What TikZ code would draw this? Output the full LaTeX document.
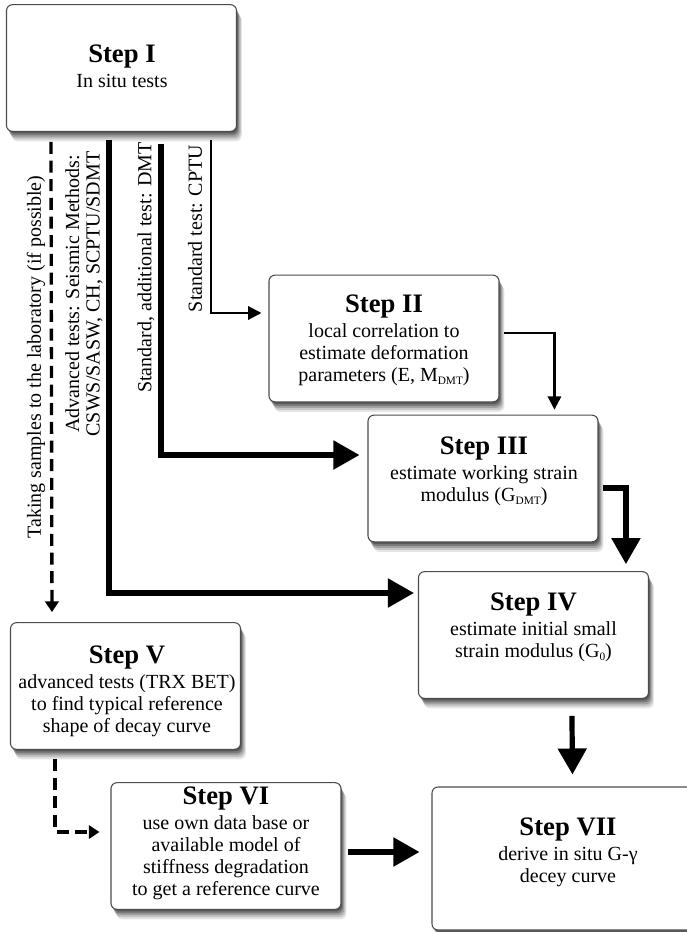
\documentclass[tikz,border=0pt]{standalone}
\usepackage{fontspec}
\setmainfont{Liberation Serif}
\usetikzlibrary{calc,arrows.meta,shadows}
\tikzset{
 box/.style={draw=black!70, line width=0.8pt, fill=white, rounded corners=4.5pt,
  minimum width=172.5pt, minimum height=95pt, inner sep=0pt,
  general shadow={shadow xshift=4pt, shadow yshift=-7.5pt, fill=black, opacity=.10},
  general shadow={shadow xshift=3.2pt, shadow yshift=-6pt, fill=black, opacity=.14},
  general shadow={shadow xshift=2.4pt, shadow yshift=-4.5pt, fill=black, opacity=.18},
  general shadow={shadow xshift=1.5pt, shadow yshift=-3pt, fill=black, opacity=.24},
  general shadow={shadow xshift=0.8pt, shadow yshift=-1.5pt, fill=black, opacity=.28}},
 txt/.style={align=center, font=\fontsize{15}{16.5}\selectfont, inner sep=0pt},
 side/.style={rotate=90, align=center, font=\fontsize{15}{15.5}\selectfont, inner sep=0pt},
 thick arrow/.style={line width=3.9pt, -{Triangle[width=21pt,length=19.5pt]}},
 thin arrow/.style={line width=1.7pt, -{Triangle[width=10pt,length=10pt]}},
 dash arrow/.style={line width=2.5pt, dash pattern=on 9pt off 5pt, -{Triangle[width=10pt,length=8pt]}},
}
\newcommand{\ttl}[1]{{\fontsize{20}{20}\selectfont\bfseries #1}\\[2.5pt]}
\newcommand{\sbs}[1]{\raisebox{-2.5pt}{\fontsize{8.5}{8.5}\selectfont #1}}
\begin{document}
\begin{tikzpicture}[x=0.75pt, y=-0.75pt]
\useasboundingbox (0,0) rectangle (686,932);
% boxes
\node[box] (s1) at (121.5,68) {};
\node[box] (s2) at (384,338.5) {};
\node[box] (s3) at (483,478.5) {};
\node[box] (s4) at (533.5,635) {};
\node[box] (s5) at (125.5,686) {};
\node[box] (s6) at (226,846) {};
\node[box, minimum width=201pt, minimum height=107.25pt] (s7) at (566,858.5) {};
% box texts
\node[txt] (t1) at (122,66) {\ttl{Step I}In situ tests};
\node[txt] (t2) at (384,340) {\ttl{Step II}local correlation to\\estimate deformation\\parameters (E, M\sbs{DMT})};
\node[txt] (t3) at (484,471) {\ttl{Step III}estimate working strain\\modulus (G\sbs{DMT})};
\node[txt] (t4) at (533.5,627) {\ttl{Step IV}estimate initial small\\strain modulus (G\sbs{0})};
\node[txt] (t5) at (127,691) {\ttl{Step V}advanced tests (TRX BET)\\to find typical reference\\shape of decay curve};
\node[txt] (t6) at (226,843) {\ttl{Step VI}use own data base or\\available model of\\stiffness degradation\\to get a reference curve};
\node[txt] (t7) at (568,852) {\ttl{Step VII}derive in situ G-γ\\decey curve};
% side labels
\node[side] (l1) at (36,357) {Taking samples to the laboratory (if possible)};
\node[side] (l2) at (84,294) {Advanced tests: Seismic Methods:\\CSWS/SASW, CH, SCPTU/SDMT};
\node[side] (l3) at (146,267.5) {Standard, additional test: DMT};
\node[side] (l4) at (195,228.5) {Standard test: CPTU};
% connectors
\draw[dash arrow] ($(s1.south west)+(45,10)$) -- ($(s5.north west)+(42,-10)$);
\draw[thick arrow] ($(s1.south west)+(103,8)$) |- ($(s4.west)+(-4,-42)$);
\draw[thick arrow] ($(s1.south west)+(155,12)$) |- ($(s3.west)+(-8,-23.5)$);
\draw[thin arrow] ($(s1.south west)+(205,8)$) |- ($(s2.west)+(-7,-25.5)$);
\draw[thin arrow] ($(s2.east)+(4,-5.5)$) -| ($(s3.north west)+(187,-5)$);
\draw[thick arrow] ($(s3.east)+(4,9.5)$) -| ($(s4.north west)+(208,-7)$);
\draw[thick arrow] ($(s4.south west)+(154,17)$) -- ($(s7.north west)+(141,-12)$);
\draw[thick arrow] ($(s6.east)+(6,6)$) -- ($(s7.west)+(-12,-6.5)$);
\draw[dash arrow] ($(s5.south west)+(45,9)$) |- ($(s6.west)+(-11,-14)$);
\end{tikzpicture}
\end{document}
